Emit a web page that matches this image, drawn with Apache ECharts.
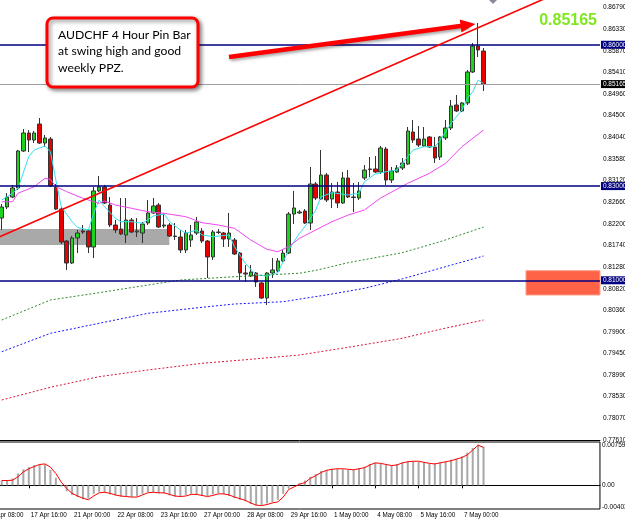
<!DOCTYPE html>
<html>
<head>
<meta charset="utf-8">
<script src="https://cdn.jsdelivr.net/npm/echarts@6/dist/echarts.min.js"></script>
<style>
html,body{margin:0;padding:0;background:#fff}
#chart{width:625px;height:524px}
</style>
</head>
<body>
<div id="chart"></div>
<script>
// trading days shown on the time axis (4 hour bars, Mon-Fri)
const days = ['16 Apr','17 Apr','20 Apr','21 Apr','22 Apr','23 Apr','24 Apr','27 Apr','28 Apr','29 Apr','30 Apr','1 May','4 May','5 May','6 May','7 May']
const hours = ['00:00','04:00','08:00','12:00','16:00','20:00']
const PRE = 3      // empty slots before the first visible bar
const SLOTS = 114  // slots across the plot (incl. empty space right of last bar)

// [open, close, low, high], first bar = 16 Apr 20:00, last = 7 May 16:00
const ohlc = [
  [0.82322,0.82556,0.82068,0.82620],[0.82556,0.82768,0.82513,0.82853],[0.82768,0.82959,0.82747,0.83023],
  [0.82959,0.83745,0.82917,0.83766],[0.83745,0.84127,0.83723,0.84212],[0.84127,0.83978,0.83723,0.84190],
  [0.83978,0.84127,0.83914,0.84170],[0.84318,0.83914,0.83893,0.84445],[0.83914,0.84021,0.83830,0.84084],
  [0.83999,0.83002,0.82980,0.84042],[0.82980,0.82513,0.82492,0.83044],[0.82513,0.81813,0.81770,0.82556],
  [0.81834,0.81367,0.81219,0.81855],[0.81367,0.81898,0.81346,0.81940],[0.81898,0.82004,0.81579,0.82068],
  [0.82046,0.82025,0.81983,0.82174],[0.82046,0.81707,0.81579,0.82068],[0.81707,0.82896,0.81473,0.82980],
  [0.82896,0.82980,0.82874,0.83214],[0.82980,0.82641,0.82620,0.83023],[0.82598,0.82174,0.82131,0.82768],
  [0.82174,0.82068,0.82004,0.82280],[0.82089,0.81983,0.81962,0.82747],[0.81962,0.82280,0.81792,0.82747],
  [0.82280,0.82025,0.82004,0.82322],[0.82025,0.82046,0.81919,0.82322],[0.82004,0.82195,0.81792,0.82238],
  [0.82216,0.82429,0.82174,0.82705],[0.82429,0.82577,0.82407,0.82747],[0.82598,0.82131,0.82110,0.82641],
  [0.82153,0.82174,0.82110,0.82429],[0.82174,0.81940,0.81919,0.82216],[0.81940,0.81930,0.81855,0.82216],
  [0.81919,0.81643,0.81579,0.82068],[0.81643,0.82004,0.81579,0.82068],[0.81855,0.81962,0.81707,0.82174],
  [0.82004,0.82238,0.81962,0.82344],[0.82046,0.81834,0.81792,0.82110],[0.81834,0.81495,0.81049,0.81855],
  [0.81495,0.82025,0.81431,0.82068],[0.82025,0.82015,0.81983,0.82089],[0.82004,0.81877,0.81707,0.82025],
  [0.81877,0.82004,0.81707,0.82429],[0.81855,0.81558,0.81537,0.81898],[0.81579,0.81155,0.81006,0.81601],
  [0.81155,0.81134,0.80964,0.81325],[0.81091,0.81176,0.81070,0.81325],[0.81155,0.80964,0.80858,0.81176],
  [0.80943,0.80624,0.80603,0.80964],[0.80624,0.81155,0.80476,0.81176],[0.81155,0.81219,0.81049,0.81473],
  [0.81197,0.81410,0.81176,0.81473],[0.81410,0.81579,0.81388,0.81643],[0.81579,0.82407,0.81558,0.82450],
  [0.82407,0.82535,0.82195,0.82896],[0.82429,0.82450,0.82407,0.82492],[0.82471,0.82216,0.82195,0.82513],
  [0.82216,0.83044,0.82068,0.83405],[0.83044,0.82747,0.82705,0.83087],[0.82726,0.83235,0.82705,0.83766],
  [0.83235,0.82705,0.82662,0.83278],[0.82726,0.82874,0.82535,0.83065],[0.82874,0.82641,0.82535,0.83087],
  [0.82641,0.83172,0.82620,0.83299],[0.83172,0.82768,0.82747,0.83341],[0.82768,0.82758,0.82450,0.83065],
  [0.82747,0.82896,0.82705,0.83087],[0.83172,0.83341,0.83129,0.83447],[0.83363,0.83352,0.83193,0.83617],
  [0.83363,0.83299,0.83278,0.83639],[0.83299,0.83808,0.83256,0.83851],[0.83787,0.83129,0.83023,0.83830],
  [0.83129,0.83320,0.83065,0.83405],[0.83299,0.83384,0.83278,0.83447],[0.83384,0.83490,0.83341,0.83596],
  [0.83469,0.84169,0.83447,0.84254],[0.84148,0.83978,0.83914,0.84403],[0.83999,0.83872,0.83830,0.84275],
  [0.83851,0.83999,0.83830,0.84254],[0.84042,0.83830,0.83808,0.84063],[0.83830,0.83596,0.83490,0.84042],
  [0.83617,0.84042,0.83554,0.84063],[0.84021,0.84233,0.83978,0.84403],[0.84233,0.84700,0.84190,0.84827],
  [0.84721,0.84594,0.84573,0.84933],[0.84594,0.84764,0.84573,0.84785],[0.84764,0.85422,0.84721,0.85464],
  [0.85422,0.85973,0.85400,0.86037],[0.85973,0.85889,0.85740,0.86462],[0.85867,0.85165,0.85018,0.85931]
]

// moving averages, [bar, price]
const maFast = [[0,0.82705],[2,0.82847],[3,0.82953],[5,0.83624],[6,0.83766],[8,0.83851],[9,0.8373],[10,0.83129],
  [11,0.82562],[13,0.82244],[14,0.82125],[16,0.82068],[17,0.82422],[18,0.82705],[19,0.82562],[21,0.82316],
  [22,0.82244],[24,0.82244],[26,0.8221],[28,0.82365],[30,0.82407],[31,0.82244],[33,0.82068],[34,0.81998],
  [36,0.82068],[37,0.81962],[39,0.81926],[42,0.81962],[43,0.81713],[45,0.81361],[47,0.81113],[49,0.81091],
  [51,0.81161],[53,0.81643],[55,0.81998],[56,0.82138],[58,0.82492],[59,0.82775],[61,0.8286],[64,0.82811],
  [66,0.82847],[67,0.83093],[69,0.83256],[71,0.83305],[73,0.83341],[74,0.83484],[76,0.83766],[78,0.83836],
  [80,0.83836],[81,0.83978],[83,0.84333],[85,0.84615],[86,0.84863],[87,0.8500],[88,0.8525],[89,0.8518]]
const maMid = [[0,0.82668],[2,0.82668],[3,0.82847],[6,0.82987],[8,0.83165],[9,0.83144],[10,0.82987],[12,0.82881],
  [15,0.82741],[18,0.82634],[19,0.82683],[21,0.82598],[24,0.82528],[27,0.82456],[30,0.82422],[34,0.8235],
  [37,0.82223],[40,0.82174],[43,0.82104],[46,0.81855],[49,0.81658],[51,0.81607],[53,0.81713],[55,0.81891],
  [58,0.82068],[61,0.82244],[64,0.82386],[67,0.82492],[70,0.82747],[75,0.83059],[79,0.83271],[82,0.83484],
  [85,0.83836],[89,0.8419]]
const maGreen = [[0,0.80157],[9,0.80582],[18,0.80737],[27,0.8090],[33,0.81006],[43,0.81076],[55,0.8115],
  [58,0.8121],[64,0.81374],[74,0.81586],[81,0.8182],[89,0.8213]]
const maBlue = [[0,0.79484],[9,0.79875],[18,0.80087],[27,0.80299],[37,0.80427],[43,0.80497],[52,0.80546],
  [61,0.80709],[67,0.8083],[74,0.8103],[89,0.81516]]
const maCrimson = [[0,0.78459],[9,0.78729],[18,0.78954],[27,0.79096],[37,0.79238],[46,0.79323],[55,0.79414],
  [64,0.79578],[74,0.79769],[81,0.7996],[89,0.80157]]

// MACD window
const macdHist = [0.0009,0.0010,0.0013,0.0022,0.0030,0.0034,0.0038,0.0040,0.0039,0.0029,
  0.0014,-0.0002,-0.0011,-0.0018,-0.0022,-0.0026,-0.0025,-0.0016,-0.0012,-0.0014,
  -0.0017,-0.0019,-0.0021,-0.0021,-0.0022,-0.0020,-0.0016,-0.0013,-0.0013,-0.0015,
  -0.0015,-0.0019,-0.0021,-0.0021,-0.0018,-0.0016,-0.0018,-0.0020,-0.0020,-0.0017,
  -0.0015,-0.0017,-0.0020,-0.0024,-0.0027,-0.0030,-0.0035,-0.0038,-0.0037,-0.0034,
  -0.0032,-0.0027,-0.0016,-0.0005,0.0000,0.0004,0.0009,0.0016,0.0021,0.0027,
  0.0029,0.0031,0.0031,0.0030,0.0029,0.0030,0.0032,0.0035,0.0040,0.0042,
  0.0040,0.0038,0.0037,0.0040,0.0043,0.0045,0.0045,0.0044,0.0042,0.0040,
  0.0041,0.0043,0.0045,0.0048,0.0050,0.0054,0.0061,0.0070,0.0076,0.0072]
const macdSignal = [0.0009,0.0009,0.00095,0.0016,0.0025,0.0031,0.0035,0.0039,0.0040,0.0034,
  0.0022,0.0006,-0.0006,-0.0015,-0.0020,-0.0024,-0.0027,-0.0020,-0.0014,-0.0013,
  -0.0015,-0.0018,-0.0020,-0.0021,-0.0022,-0.0022,-0.0018,-0.0014,-0.0013,-0.0014,
  -0.0014,-0.0017,-0.0020,-0.0021,-0.0020,-0.0017,-0.0017,-0.0019,-0.0021,-0.0019,
  -0.0016,-0.0016,-0.0018,-0.0022,-0.0025,-0.0028,-0.0033,-0.0037,-0.0038,-0.0036,
  -0.0033,-0.0031,-0.0022,-0.0008,-0.0003,0.0002,0.0005,0.0013,0.0018,0.0024,
  0.0028,0.0030,0.0031,0.0031,0.0030,0.0029,0.0031,0.0033,0.0038,0.0042,
  0.0041,0.0039,0.0037,0.0038,0.0042,0.0044,0.0045,0.0045,0.0043,0.0041,
  0.0040,0.0042,0.0044,0.0046,0.0049,0.0052,0.0057,0.0066,0.0075,0.0071]

// axis tick labels
const priceTicks = [0.77610,0.78070,0.78530,0.78990,0.79450,0.79900,0.80360,0.80820,0.81280,0.81740,
  0.82200,0.82660,0.83120,0.83580,0.84040,0.84500,0.84960,0.85410,0.85870,0.86330,0.86790]
const macdTicks = [0.00759, 0, -0.00403]

// horizontal levels and the current bid
const levels = [0.86, 0.83, 0.81]
const bid = 0.85165

// drawn objects, in [slot, price] (slot axis runs 0..SLOTS)
const trendLine = [[0, 0.81766], [SLOTS, 0.87491]]
const arrowFrom = [45.48, 0.85740]
const arrowTo = [89.63, 0.86419]
const greyZone = [[0, 0.82089], [34.46, 0.81749]]
const ppzZone = [[100.34, 0.81204], [SLOTS, 0.80688]]

const categories = []
days.forEach(d => hours.forEach(h => categories.push(d + ' ' + h)))
categories.splice(0, 2)                 // chart starts at 16 Apr 08:00
categories.length = PRE + ohlc.length
for (let i = categories.length; i < SLOTS; i++) categories.push('f' + i)
const lastSlot = PRE + ohlc.length - 1

const font = 'Liberation Sans'
const slotW = 5.414
const gridLeft = -PRE * slotW - 1
const gridWidth = SLOTS * slotW

const toSlot = list => list.map(([b, v]) => [b + PRE, v])
const levelLabel = (txt, bg) => ({
  show: true, position: 'end', distance: 1, formatter: txt,
  color: '#fff', backgroundColor: bg, fontSize: 6.5, fontFamily: font, padding: [1, 3, 0, 2]
})
const dotted = (color) => ({ color, width: 1, type: [2, 2] })

const chart = echarts.init(document.getElementById('chart'))
chart.setOption({
  animation: false,
  backgroundColor: '#fff',
  grid: [
    { left: gridLeft, top: 0, width: gridWidth, height: 440, outerBoundsMode: 'none', containLabel: false },
    { left: gridLeft, top: 442, width: gridWidth, height: 67, outerBoundsMode: 'none', containLabel: false,
      show: true, borderColor: '#000', borderWidth: 1 }
  ],
  xAxis: [
    { type: 'category', gridIndex: 0, data: categories, boundaryGap: true,
      axisLine: { lineStyle: { color: '#000' } }, axisTick: { show: false }, axisLabel: { show: false } },
    { type: 'category', gridIndex: 1, data: categories, boundaryGap: true,
      axisLine: { lineStyle: { color: '#000' } },
      axisTick: { show: true, alignWithLabel: true, length: 3, interval: i => i % 8 === 0 && i <= lastSlot,
        lineStyle: { color: '#000' } },
      axisLabel: { show: true, interval: i => i % 8 === 0 && i <= lastSlot, align: 'left', margin: 3,
        padding: [0, 0, 0, 2], fontSize: 6.3, fontFamily: font, color: '#000' } },
    { type: 'value', gridIndex: 0, min: 0, max: SLOTS, show: false }
  ],
  yAxis: [
    { type: 'value', gridIndex: 0, position: 'right', min: 0.7761, max: 0.8695, scale: true,
      splitLine: { show: false },
      axisLine: { show: true, lineStyle: { color: '#000' } },
      axisTick: { show: true, length: 2, customValues: priceTicks, lineStyle: { color: '#000' } },
      axisLabel: { customValues: priceTicks, formatter: v => v.toFixed(5), margin: 3,
        fontSize: 6.5, fontFamily: font, color: '#000' } },
    { type: 'value', gridIndex: 1, position: 'right', min: -0.00443, max: 0.0081,
      splitLine: { show: false }, axisLine: { show: false }, axisTick: { show: false },
      axisLabel: { customValues: macdTicks, formatter: v => v === 0 ? '0.00' : v.toFixed(5), margin: 2,
        fontSize: 6.5, fontFamily: font, color: '#000' } }
  ],
  series: [
    { type: 'line', xAxisIndex: 2, yAxisIndex: 0, data: [], z: 1,
      markArea: { silent: true, precision: 5, data: [
        [{ coord: greyZone[0], itemStyle: { color: '#a9a9a9' } }, { coord: greyZone[1] }],
        [{ coord: ppzZone[0], itemStyle: { color: '#ff6347', borderColor: '#ff9b86', borderWidth: 1 } }, { coord: ppzZone[1] }]
      ] } },
    { type: 'candlestick', xAxisIndex: 0, yAxisIndex: 0, barWidth: 4, z: 2,
      data: ohlc.map((d, i) => [i + PRE].concat(d)),
      encode: { x: 0, y: [1, 2, 3, 4] },
      itemStyle: { color: '#1ed21e', color0: '#e60000', borderColor: '#333', borderColor0: '#333',
        borderColorDoji: '#777', borderWidth: 1 },
      markLine: { silent: true, symbol: 'none', precision: 5, data: [
        ...levels.map(v => ({ yAxis: v, lineStyle: { color: '#000080', width: 1.6, type: 'solid' },
          label: levelLabel(v.toFixed(5), '#000080') })),
        { yAxis: bid, lineStyle: { color: '#a0a0a4', width: 1, type: 'solid' }, label: levelLabel(bid.toFixed(5), '#000') }
      ] } },
    { type: 'line', xAxisIndex: 0, yAxisIndex: 0, data: toSlot(maFast), showSymbol: false, z: 3,
      lineStyle: { color: '#33e0ee', width: 1 } },
    { type: 'line', xAxisIndex: 0, yAxisIndex: 0, data: toSlot(maMid), showSymbol: false, z: 3,
      lineStyle: { color: '#f048f0', width: 1 } },
    { type: 'line', xAxisIndex: 0, yAxisIndex: 0, data: toSlot(maGreen), showSymbol: false, z: 3,
      lineStyle: dotted('#2e8b2e') },
    { type: 'line', xAxisIndex: 0, yAxisIndex: 0, data: toSlot(maBlue), showSymbol: false, z: 3,
      lineStyle: dotted('#1515ff') },
    { type: 'line', xAxisIndex: 0, yAxisIndex: 0, data: toSlot(maCrimson), showSymbol: false, z: 3,
      lineStyle: dotted('#dc143c') },
    { type: 'line', xAxisIndex: 2, yAxisIndex: 0, data: trendLine, showSymbol: false, z: 6,
      lineStyle: { color: '#ff0000', width: 1.6 },
      markLine: { silent: true, symbol: ['none', 'triangle'], symbolSize: [13, 15], precision: 5,
        lineStyle: { color: '#ff0000', width: 4.5, type: 'solid', shadowBlur: 3, shadowOffsetX: 1.5,
          shadowOffsetY: 2, shadowColor: 'rgba(0,0,0,0.35)' },
        label: { show: false },
        data: [[{ coord: arrowFrom }, { coord: arrowTo }]] } },
    { type: 'bar', xAxisIndex: 1, yAxisIndex: 1, barWidth: 2,
      data: macdHist.map((v, i) => [i + PRE, v]), itemStyle: { color: '#a8a8a8' } },
    { type: 'line', xAxisIndex: 1, yAxisIndex: 1, data: macdSignal.map((v, i) => [i + PRE, v]),
      showSymbol: false, lineStyle: { color: '#ff0000', width: 1 } }
  ],
  graphic: [
    { type: 'polygon', shape: { points: [[489, 0], [497, 0], [493, 4]] }, style: { fill: '#8a8a9a' }, z: 50 },
    { type: 'rect', shape: { x: 47, y: 18, width: 151, height: 69, r: 6 }, z: 100,
      style: { fill: '#fff', stroke: '#ff0000', lineWidth: 3, shadowBlur: 4, shadowOffsetX: 2,
        shadowOffsetY: 2, shadowColor: 'rgba(0,0,0,0.45)' } },
    { type: 'text', x: 58, y: 27, z: 101,
      style: { text: 'AUDCHF 4 Hour Pin Bar\nat swing high and good\nweekly PPZ.',
        font: '12.2px Lato', lineHeight: 16.3, fill: '#000', verticalAlign: 'top' } },
    { type: 'text', x: 597, y: 21, z: 101,
      style: { text: bid.toFixed(5), font: 'bold 16px "Liberation Sans"', fill: '#7fe81f',
        align: 'right', verticalAlign: 'middle' } }
  ]
})
</script>
</body>
</html>
